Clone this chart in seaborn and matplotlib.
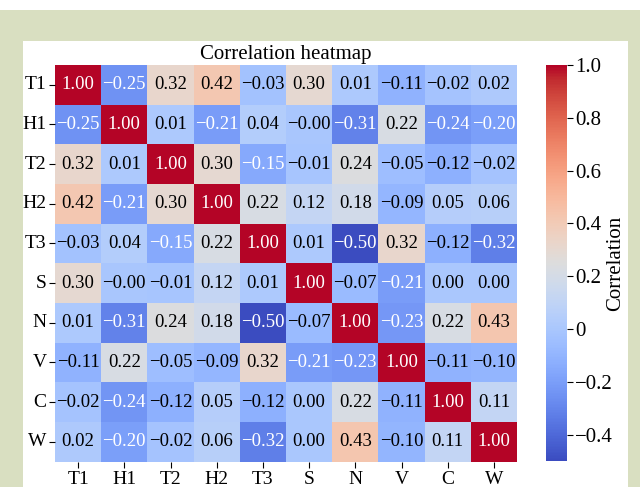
import numpy as np
import pandas as pd
import seaborn as sns
import matplotlib
matplotlib.use("Agg")
import matplotlib.pyplot as plt
from matplotlib.patches import Rectangle
from matplotlib.ticker import FuncFormatter

labels = ["T1", "H1", "T2", "H2", "T3", "S", "N", "V", "C", "W"]
r_T1 = [1.00, -0.25, 0.32, 0.42, -0.03, 0.30, 0.01, -0.11, -0.02, 0.02]
r_H1 = [-0.25, 1.00, 0.01, -0.21, 0.04, -0.004, -0.31, 0.22, -0.24, -0.20]
r_T2 = [0.32, 0.01, 1.00, 0.30, -0.15, -0.01, 0.24, -0.05, -0.12, -0.02]
r_H2 = [0.42, -0.21, 0.30, 1.00, 0.22, 0.12, 0.18, -0.09, 0.05, 0.06]
r_T3 = [-0.03, 0.04, -0.15, 0.22, 1.00, 0.01, -0.50, 0.32, -0.12, -0.32]
r_S = [0.30, -0.004, -0.01, 0.12, 0.01, 1.00, -0.07, -0.21, 0.00, 0.00]
r_N = [0.01, -0.31, 0.24, 0.18, -0.50, -0.07, 1.00, -0.23, 0.22, 0.43]
r_V = [-0.11, 0.22, -0.05, -0.09, 0.32, -0.21, -0.23, 1.00, -0.11, -0.10]
r_C = [-0.02, -0.24, -0.12, 0.05, -0.12, 0.00, 0.22, -0.11, 1.00, 0.11]
r_W = [0.02, -0.20, -0.02, 0.06, -0.32, 0.00, 0.43, -0.10, 0.11, 1.00]
cbar_ticks = [-0.4, -0.2, 0.0, 0.2, 0.4, 0.6, 0.8, 1.0]

corr = pd.DataFrame([r_T1, r_H1, r_T2, r_H2, r_T3, r_S, r_N, r_V, r_C, r_W],
                    index=labels, columns=labels)
annot_text = corr.map(lambda v: f'{v:.2f}'.replace('-', '\u2212'))

plt.rcParams['font.family'] = ['Liberation Serif', 'DejaVu Serif']
plt.rcParams['axes.unicode_minus'] = True

W, H = 640, 487
fig = plt.figure(figsize=(W / 100, H / 100), dpi=100, facecolor='#d9dfc1')
fig.patches.append(Rectangle((0, 1 - 10 / H), 1, 10 / H, transform=fig.transFigure,
                             facecolor='white', edgecolor='none', zorder=-5))
fig.patches.append(Rectangle((22.7 / W, 0), (628.3 - 22.7) / W, 1 - 40.7 / H,
                             transform=fig.transFigure, facecolor='white',
                             edgecolor='none', zorder=-5))

ax = fig.add_axes([55 / W, 1 - 461.5 / H, 462 / W, 396.5 / H])
cax = fig.add_axes([545.7 / W, 1 - 461 / H, 21 / W, 396 / H])

sns.heatmap(corr, ax=ax, cbar_ax=cax, cmap='coolwarm', annot=annot_text.values, fmt='',
            annot_kws={'size': 13.5},
            cbar_kws={'label': 'Correlation', 'ticks': cbar_ticks})

vals = corr.values.ravel()
for t, v in zip(ax.texts, vals):
    t.set_color('white' if (v < -0.13 or v > 0.9) else 'black')

ax.set_title('Correlation heatmap', fontsize=15, pad=4)
ax.tick_params(axis='both', labelsize=14, length=4, width=0.8)
ax.tick_params(axis='x', pad=2.5)
ax.tick_params(axis='y', pad=2)
ax.set_yticklabels(labels, rotation=0)
ax.set_xticklabels(labels, rotation=0)
ax.set_xlabel('')
ax.set_ylabel('')

def fmt(v, pos):
    if abs(v) < 1e-9:
        return '0'
    return f'{v:.1f}'.replace('-', '\u2212')

cax.yaxis.set_major_formatter(FuncFormatter(fmt))
cax.tick_params(labelsize=15, length=4, width=0.8, pad=2)
cax.set_ylabel('Correlation', fontsize=15)
cax.yaxis.set_label_coords((606 - 545.7) / 21, 0.5)

fig.savefig('out.png', dpi=100, facecolor=fig.get_facecolor())
